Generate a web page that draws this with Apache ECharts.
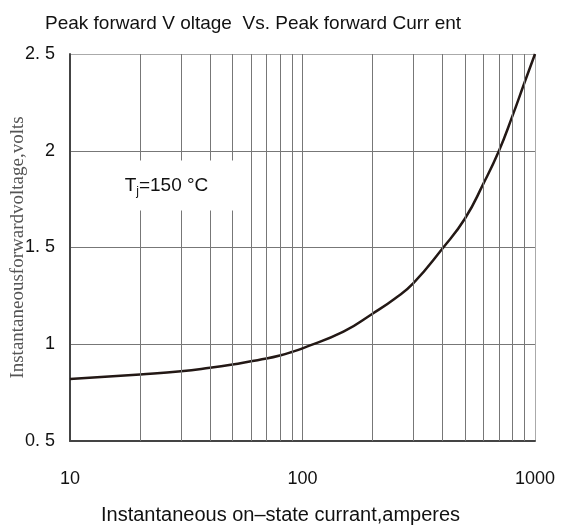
<!DOCTYPE html>
<html>
<head>
<meta charset="utf-8">
<script src="https://cdn.jsdelivr.net/npm/echarts@6/dist/echarts.min.js"></script>
<style>
  html, body { margin: 0; padding: 0; background: #fff; }
  #chart { width: 562px; height: 526px; }
</style>
</head>
<body>
<div id="chart"></div>
<script>
// current (A) vs forward voltage (V)
const current = [10, 20, 30, 40, 50, 60, 70, 80, 90, 100, 150, 200, 250, 300, 400, 500, 600, 700, 800, 900, 1000]
const voltage = [0.82, 0.844, 0.86, 0.878, 0.895, 0.912, 0.926, 0.942, 0.96, 0.979, 1.065, 1.158, 1.237, 1.316, 1.495, 1.65, 1.83, 2.0, 2.18, 2.35, 2.5]

// log grid lines between decades
const minorGridX = [20, 30, 40, 50, 60, 70, 80, 90, 200, 300, 400, 500, 600, 700, 800, 900]
const yTickLabels = { 0.5: '0. 5', 1: '1', 1.5: '1. 5', 2: '2', 2.5: '2. 5' }

const chart = echarts.init(document.getElementById('chart'))

chart.setOption({
    backgroundColor: '#fff',
    animation: false,
    title: [
        {
            text: 'Peak forward V oltage  Vs. Peak forward Curr ent',
            left: 40,
            top: 9,
            textStyle: { fontFamily: 'Liberation Sans, Arial', fontSize: 19, fontWeight: 'normal', color: '#111' }
        },
        {
            text: 'Instantaneous on\u2013state currant,amperes',
            left: 96,
            top: 500,
            textStyle: { fontFamily: 'Liberation Sans, Arial', fontSize: 20, fontWeight: 'normal', color: '#111' }
        }
    ],
    grid: { left: 70, right: 27, top: 54, bottom: 85, outerBoundsMode: 'none', containLabel: false },
    xAxis: {
        type: 'log',
        logBase: 10,
        min: 10,
        max: 1000,
        axisLine: { show: true, lineStyle: { color: '#444', width: 2 } },
        axisTick: { show: false },
        axisLabel: {
            margin: 29,
            fontFamily: 'Liberation Sans, Arial',
            fontSize: 18,
            color: '#111',
            formatter: v => String(Math.round(v))
        },
        splitLine: { show: true, lineStyle: { color: ['#777', '#777', '#aaa'], width: 1 } }
    },
    yAxis: {
        type: 'value',
        min: 0.5,
        max: 2.5,
        interval: 0.5,
        name: 'Instantaneousforwardvoltage,volts',
        nameLocation: 'middle',
        nameGap: 42,
        nameMoveOverlap: false,
        nameTextStyle: { fontFamily: 'Liberation Serif, Times New Roman', fontSize: 19, color: '#555' },
        axisLine: { show: true, lineStyle: { color: '#444', width: 2 } },
        axisTick: { show: false },
        axisLabel: {
            margin: 15,
            fontFamily: 'Liberation Sans, Arial',
            fontSize: 18,
            color: '#111',
            formatter: v => yTickLabels[v] ?? String(v)
        },
        splitLine: { show: true, lineStyle: { color: ['#777', '#777', '#777', '#777', '#aaa'], width: 1 } }
    },
    series: [
        {
            // minor vertical grid lines
            type: 'line',
            data: [],
            z: 1,
            silent: true,
            markLine: {
                silent: true,
                symbol: 'none',
                label: { show: false },
                lineStyle: { color: '#777', type: 'solid', width: 1 },
                data: minorGridX.map(x => ({ xAxis: x }))
            }
        },
        {
            type: 'line',
            data: current.map((c, i) => [c, voltage[i]]),
            smooth: 0.5,
            symbol: 'none',
            z: 3,
            lineStyle: { color: '#231815', width: 2.5 },
            markPoint: {
                silent: true,
                symbol: 'rect',
                symbolSize: [146, 50],
                itemStyle: { color: '#fff' },
                label: {
                    show: true,
                    position: 'inside',
                    formatter: '{t|T}{s|j}{t|=150 °C}',
                    rich: {
                        t: { fontFamily: 'Liberation Sans, Arial', fontSize: 19, color: '#111' },
                        s: { fontFamily: 'Liberation Sans, Arial', fontSize: 12, color: '#111', padding: [12, 0, 0, 0] }
                    }
                },
                data: [{ coord: [26, 1.82] }]
            }
        }
    ]
})
</script>
</body>
</html>
